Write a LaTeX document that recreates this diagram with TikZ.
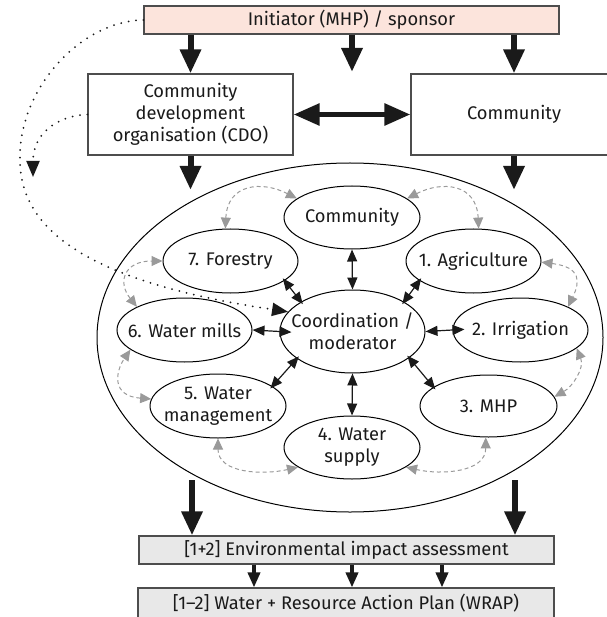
\documentclass[tikz,border=0pt]{standalone}
\usepackage{fontspec}
\setmainfont{Fira Sans}
\usetikzlibrary{arrows.meta,shapes.geometric,calc}
\definecolor{pinkfill}{HTML}{FCE4DC}
\definecolor{grayfill}{HTML}{E8E8E8}
\definecolor{boxline}{HTML}{4D4D4D}
\definecolor{dashgray}{HTML}{9A9A9A}
\definecolor{inkblack}{HTML}{1A1A1A}
\begin{document}
\begin{tikzpicture}[x=1pt,y=-1pt,
  txt/.style={font=\fontsize{18.3}{22}\selectfont, text=inkblack, align=center, inner sep=0pt},
  box/.style={draw=boxline, line width=1.1pt, inner sep=0pt, txt},
  ell/.style={ellipse, draw=black, line width=1pt, inner sep=0pt},
  bigarrow/.style={draw=inkblack, line width=6pt, -{Triangle[length=24pt,width=20pt]}},
  bigdbl/.style={draw=inkblack, line width=5.5pt, {Triangle[length=26pt,width=21pt]}-{Triangle[length=26pt,width=21pt]}},
  medarrow/.style={draw=inkblack, line width=3.5pt, -{Triangle[length=15pt,width=12pt]}},
  dbl/.style={draw=inkblack, line width=1.2pt, {Triangle[length=12pt,width=10pt]}-{Triangle[length=12pt,width=10pt]}},
  graydbl/.style={draw=dashgray, line width=1pt, dash pattern=on 4pt off 3pt, {Triangle[length=11pt,width=10pt]}-{Triangle[length=11pt,width=10pt]}},
  dotline/.style={draw=inkblack, line width=2pt, line cap=round, dash pattern=on 0pt off 7.5pt, -{Triangle[length=16pt,width=13pt]}}
]
\useasboundingbox (0,0) rectangle (606,617);

% boxes
\node[box, fill=pinkfill, minimum width=415pt, minimum height=28pt] (init) at (351.5,20) {Initiator (MHP) / sponsor};
\node[box, fill=white, minimum width=205pt, minimum height=81pt] (cdo) at (190.5,114.5) {Community\\development\\organisation (CDO)};
\node[box, fill=white, minimum width=206pt, minimum height=81pt] (commbox) at (514,114.5) {Community};
\node[box, fill=grayfill, minimum width=415pt, minimum height=28pt] (eia) at (346.5,550) {[1+2] Environmental impact assessment};
\node[box, fill=grayfill, minimum width=416pt, minimum height=30pt] (wrap) at (346,603) {[1–2] Water + Resource Action Plan (WRAP)};

% big ellipse
\node[ell, minimum width=506pt, minimum height=349pt] (big) at (350,337.5) {};

% inner ellipses
\node[ell, minimum width=136pt, minimum height=63pt] (comm) at (352,217.5) {};
\node[ell, minimum width=135pt, minimum height=64pt] (forest) at (230.5,261) {};
\node[ell, minimum width=135pt, minimum height=64pt] (agri) at (473.5,261) {};
\node[ell, minimum width=145pt, minimum height=83pt] (coord) at (352.5,331.5) {};
\node[ell, minimum width=135pt, minimum height=64pt] (wmill) at (184.5,330) {};
\node[ell, minimum width=135pt, minimum height=64pt] (irr) at (520.5,330) {};
\node[ell, minimum width=136pt, minimum height=64pt] (wm) at (218,406) {};
\node[ell, minimum width=137pt, minimum height=62pt] (mhp) at (488.5,406) {};
\node[ell, minimum width=136pt, minimum height=63pt] (ws) at (352,447.5) {};

% texts in ellipses
\node[txt] (tcomm) at (comm.center) {Community};
\node[txt] (tforest) at (forest.center) {7. Forestry};
\node[txt] (tagri) at (agri.center) {1. Agriculture};
\node[txt] (tcoord) at (coord.center) {Coordination /\\moderator};
\node[txt] (twmill) at (wmill.center) {6. Water mills};
\node[txt] (tirr) at (irr.center) {2. Irrigation};
\node[txt] (twm) at (wm.center) {5. Water\\management};
\node[txt] (tmhp) at (mhp.center) {3. MHP};
\node[txt] (tws) at (ws.center) {4. Water\\supply};

% coordinates for free ends
\coordinate (m1) at (352,72);
\coordinate (e1) at (190.5,190);
\coordinate (e2) at (514,190);
\coordinate (b1) at (192,480);
\coordinate (b2) at (515,480);
\coordinate (w1) at (254,570);
\coordinate (w2) at (352,570);
\coordinate (w3) at (442,570);

% thick arrows
\draw[bigarrow] (init.south -| cdo.north) -- (cdo.north);
\draw[bigarrow] (init.south -| m1) -- (m1);
\draw[bigarrow] (init.south -| commbox.north) -- (commbox.north);
\draw[bigdbl] (cdo.east) -- (commbox.west);
\draw[bigarrow] (cdo.south) -- (e1);
\draw[bigarrow] (commbox.south) -- (e2);
\draw[bigarrow] (b1) -- (b1 |- eia.north);
\draw[bigarrow] (b2) -- (b2 |- eia.north);
\draw[medarrow] (eia.south -| w1) -- (wrap.north -| w1);
\draw[medarrow] (eia.south -| w2) -- (wrap.north -| w2);
\draw[medarrow] (eia.south -| w3) -- (wrap.north -| w3);

% black double arrows
\draw[dbl] (comm.south) -- (coord.north);
\draw[dbl] (coord.south) -- (ws.north);
\draw[dbl, shorten >=-12pt] (wmill.east) -- (coord.west);
\draw[dbl, shorten >=-12pt] (coord.east) -- (irr.west);
\draw[dbl, shorten <=-3pt, shorten >=-3pt] (forest.-20) -- (coord.150);
\draw[dbl, shorten <=-3pt, shorten >=-3pt] (agri.-160) -- (coord.30);
\draw[dbl, shorten <=-3pt, shorten >=-3pt] (coord.-154) -- (wm.20);
\draw[dbl, shorten <=-3pt, shorten >=-3pt] (coord.-25) -- (mhp.161);

% gray dashed arrows
\draw[graydbl] (forest.99) .. controls +(2,-45) and +(-35,-18) .. (comm.161);
\draw[graydbl] (comm.19) .. controls +(35,-18) and +(-2,-45) .. (agri.81);
\draw[graydbl] (agri.-1) .. controls +(40,5) and +(12,-25) .. (irr.26);
\draw[graydbl] (irr.-18) .. controls +(8,20) and +(18,-10) .. (mhp.8);
\draw[graydbl] (mhp.-95) .. controls +(0,35) and +(35,8) .. (ws.-20);
\draw[graydbl] (ws.-160) .. controls +(-35,8) and +(0,35) .. (wm.-90);
\draw[graydbl] (wm.174) .. controls +(-40,-3) and +(-15,22) .. (wmill.-160);
\draw[graydbl] (wmill.154) .. controls +(-20,-25) and +(-38,0) .. (forest.180);

% dotted lines
\coordinate (d1) at (20,160);
\coordinate (d2) at (33,177);
\draw[dotline] (init.west) .. controls (80,21) and (18,90) .. (d1) .. controls (20,240) and (110,285) .. (coord.163);
\draw[dotline] (cdo.west) .. controls (55,116) and (33,135) .. (d2);
\end{tikzpicture}
\end{document}
